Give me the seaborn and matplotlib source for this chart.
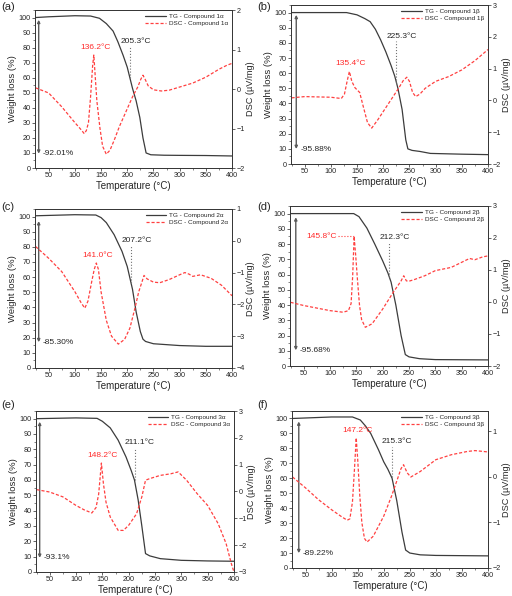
import numpy as np
import seaborn as sns
import matplotlib
matplotlib.use("Agg")
import matplotlib.pyplot as plt
from matplotlib.ticker import MultipleLocator
from matplotlib.lines import Line2D

sns.set_style("ticks")
plt.rcParams['font.family'] = ['Liberation Sans', 'DejaVu Sans']

# compounds shown in the six panels
compounds = ['1α', '1β', '2α', '2β', '3α', '3β']
panel_letters = ['(a)', '(b)', '(c)', '(d)', '(e)', '(f)']

# TG curves (temperature °C, weight %)
tg_a_temp = [25, 50, 100, 130, 147, 160, 173, 182, 192, 200, 210, 217, 224, 230, 236, 245, 270, 300, 350, 400]
tg_a = [100, 100.5, 101.2, 101, 99.5, 96, 91, 84, 75, 67, 53, 44.6, 33.6, 20, 10, 8.8, 8.5, 8.4, 8.3, 8]
tg_b_temp = [25, 100, 130, 150, 165, 175, 185, 195, 205, 215, 222, 228, 236, 243, 247, 255, 270, 290, 350, 400]
tg_b = [100, 100, 100, 98.5, 96, 94, 89, 82, 74, 65, 58, 50, 36, 16, 10, 9, 8.3, 7, 6.5, 6.2]
tg_c_temp = [25, 100, 140, 150, 160, 175, 190, 200, 210, 217, 225, 230, 235, 250, 300, 350, 400]
tg_c = [100.5, 101.2, 101, 99.3, 96, 88, 77, 67, 52, 37, 24, 19, 17.5, 16, 14.8, 14.3, 14.3]
tg_d_temp = [25, 100, 145, 155, 170, 185, 200, 210, 216, 225, 235, 243, 250, 270, 300, 400]
tg_d = [100, 100, 100, 98, 90.5, 80, 69, 61, 55, 40, 20, 7.5, 6, 4.8, 4.2, 4]
tg_e_temp = [25, 100, 140, 150, 165, 180, 195, 205, 211, 218, 225, 232, 240, 260, 300, 350, 400]
tg_e = [100, 100.5, 100.2, 98.3, 94, 86, 75, 66, 60, 47, 30, 12, 10.5, 8.7, 7.6, 7.2, 7]
tg_f_temp = [25, 100, 140, 155, 165, 175, 190, 200, 208, 216, 225, 235, 242, 250, 270, 300, 400]
tg_f = [100, 101, 101, 99, 95, 90, 79, 71, 66, 60, 45, 24, 12, 10, 8.8, 8.4, 8.1]

# DSC curves (temperature °C, µV/mg)
dsc_a_temp = [25, 50, 75, 100, 110, 118, 122, 126, 130, 134, 136.2, 138, 142, 148, 153, 160, 167, 175, 185, 200, 210, 220, 226, 230, 234, 240, 250, 265, 280, 300, 325, 350, 375, 390, 400]
dsc_a = [0.03, -0.1, -0.45, -0.85, -1.0, -1.13, -1.05, -0.85, -0.2, 0.6, 0.86, 0.5, -0.3, -1.0, -1.45, -1.65, -1.55, -1.3, -0.95, -0.5, -0.2, 0.05, 0.25, 0.35, 0.25, 0.08, -0.02, -0.05, -0.03, 0.05, 0.15, 0.3, 0.5, 0.6, 0.65]
dsc_b_temp = [25, 50, 100, 120, 126, 131, 135.4, 140, 146, 155, 162, 170, 178, 190, 200, 210, 220, 230, 238, 245, 250, 256, 262, 270, 280, 300, 325, 350, 375, 400]
dsc_b = [0.08, 0.12, 0.1, 0.06, 0.2, 0.6, 0.91, 0.6, 0.4, 0.25, -0.2, -0.7, -0.87, -0.6, -0.35, -0.1, 0.15, 0.4, 0.62, 0.73, 0.6, 0.25, 0.12, 0.2, 0.38, 0.6, 0.75, 0.96, 1.25, 1.6]
dsc_c_temp = [25, 50, 75, 100, 112, 119, 125, 132, 137, 141.0, 145, 150, 160, 170, 183, 195, 205, 215, 222, 228, 232, 238, 250, 262, 280, 300, 310, 318, 325, 340, 360, 380, 400]
dsc_c = [-0.18, -0.55, -0.97, -1.6, -1.95, -2.12, -1.9, -1.3, -0.9, -0.7, -0.9, -1.6, -2.5, -3.0, -3.25, -3.1, -2.75, -2.1, -1.6, -1.3, -1.09, -1.2, -1.3, -1.32, -1.22, -1.07, -1.0, -1.05, -1.12, -1.07, -1.18, -1.4, -1.73]
dsc_d_temp = [25, 50, 100, 125, 135, 140, 143, 145.8, 149, 152, 156, 160, 167, 180, 200, 220, 235, 240, 245, 250, 260, 280, 300, 330, 350, 365, 375, 390, 400]
dsc_d = [-0.01, -0.11, -0.27, -0.32, -0.27, -0.05, 0.8, 2.05, 1.4, 0.72, -0.1, -0.55, -0.79, -0.68, -0.22, 0.3, 0.66, 0.82, 0.66, 0.65, 0.7, 0.82, 0.98, 1.08, 1.24, 1.36, 1.32, 1.41, 1.44]
dsc_e_temp = [25, 50, 75, 100, 115, 130, 138, 143, 148.2, 152, 157, 165, 180, 190, 200, 215, 225, 232, 240, 260, 280, 294, 310, 330, 350, 370, 385, 395, 400]
dsc_e = [0.07, -0.02, -0.2, -0.52, -0.68, -0.8, -0.6, -0.1, 1.06, 0.3, -0.4, -0.95, -1.45, -1.45, -1.26, -0.83, -0.2, 0.42, 0.48, 0.6, 0.66, 0.73, 0.42, -0.08, -0.52, -1.2, -1.94, -2.69, -3.0]
dsc_f_temp = [25, 50, 75, 100, 120, 130, 135, 140, 144, 147.2, 150, 154, 158, 163, 168, 180, 200, 215, 228, 233, 238, 245, 252, 270, 300, 330, 360, 375, 400]
dsc_f = [0, -0.24, -0.5, -0.72, -0.88, -0.95, -0.92, -0.55, 0.2, 0.86, 0.4, -0.4, -1.0, -1.35, -1.43, -1.3, -0.86, -0.42, 0.01, 0.18, 0.27, 0.09, 0.0, 0.12, 0.38, 0.49, 0.56, 0.58, 0.55]

# annotated values
peak_temps = [136.2, 135.4, 141.0, 145.8, 148.2, 147.2]
onset_temps = [205.3, 225.3, 207.2, 212.3, 211.1, 215.3]
mass_losses = ['-92.01%', '-95.88%', '-85.30%', '-95.68%', '-93.1%', '-89.22%']
loss_top = [98.5, 98.5, 97, 97.6, 98, 98]
loss_bottom = [9.5, 9.9, 17, 10.3, 9.2, 9.9]

tg_temps = [tg_a_temp, tg_b_temp, tg_c_temp, tg_d_temp, tg_e_temp, tg_f_temp]
tg_vals = [tg_a, tg_b, tg_c, tg_d, tg_e, tg_f]
dsc_temps = [dsc_a_temp, dsc_b_temp, dsc_c_temp, dsc_d_temp, dsc_e_temp, dsc_f_temp]
dsc_vals = [dsc_a, dsc_b, dsc_c, dsc_d, dsc_e, dsc_f]

# layout
rects = [[0.0684, 0.7181, 0.3848, 0.2651], [0.5684, 0.7248, 0.3848, 0.2668],
         [0.0684, 0.3826, 0.3848, 0.2668], [0.5664, 0.3859, 0.3867, 0.2685],
         [0.0703, 0.0403, 0.3867, 0.2701], [0.5703, 0.0470, 0.3828, 0.2634]]
dsc_lims = [(-2, 2), (-2, 3), (-4, 1), (-2, 3), (-3, 3), (-2, 1.45)]
letter_pos = [(0.002, 0.988), (0.502, 0.988), (0.002, 0.653), (0.502, 0.653), (0.002, 0.320), (0.502, 0.320)]
arrow_x = [31, 34, 31, 35, 31, 37]

tg_color = '#3c3c3c'
dsc_color = '#ff4040'
red_text = '#ff2a2a'

fig = plt.figure(figsize=(5.12, 5.96), dpi=100)

for i in range(6):
    ax = fig.add_axes(rects[i])
    sns.lineplot(x=tg_temps[i], y=tg_vals[i], ax=ax, color=tg_color, lw=0.9)
    ax.set_xlim(24, 400)
    ax.set_ylim(0, 105)
    ax.xaxis.set_major_locator(MultipleLocator(50))
    ax.xaxis.set_minor_locator(MultipleLocator(25))
    ax.yaxis.set_major_locator(MultipleLocator(10))
    ax.yaxis.set_minor_locator(MultipleLocator(5))
    ax.set_xlabel('Temperature (°C)', fontsize=7, labelpad=1)
    ax.set_ylabel('Weight loss (%)', fontsize=6.8, labelpad=1)

    ax2 = ax.twinx()
    sns.lineplot(x=dsc_temps[i], y=dsc_vals[i], ax=ax2, color=dsc_color, lw=0.9,
                 linestyle=(0, (2.5, 1.5)))
    ax2.set_ylim(*dsc_lims[i])
    ax2.yaxis.set_major_locator(MultipleLocator(1))
    ax2.set_ylabel('DSC (µV/mg)', fontsize=6.6, labelpad=0.5)

    for a in (ax, ax2):
        a.tick_params(which='major', labelsize=5.2, length=2, width=0.5, pad=1.2)
        a.tick_params(which='minor', length=1.2, width=0.4)
        for s in a.spines.values():
            s.set_linewidth(0.6)
            s.set_color('#333333')

    # mass loss arrow
    ax.annotate('', xy=(arrow_x[i], loss_bottom[i]), xytext=(arrow_x[i], loss_top[i]),
                arrowprops=dict(arrowstyle='<|-|>', color='0.35', lw=1.0, mutation_scale=4,
                                shrinkA=0, shrinkB=0))
    ax.text(arrow_x[i] + 8, loss_bottom[i], mass_losses[i], fontsize=6, va='center', ha='left')

    # onset temperature
    t0 = onset_temps[i]
    w0 = np.interp(t0, tg_temps[i], tg_vals[i])
    ax.plot([t0, t0], [w0, 81], ls=':', color='0.45', lw=0.8)
    ax.annotate(f'{t0:.1f}°C', xy=(t0, 81), xytext=(4, 1), textcoords='offset points',
                ha='center', va='bottom', fontsize=6)

    # DSC peak
    pt = peak_temps[i]
    pv = dsc_vals[i][dsc_temps[i].index(pt)]
    if i == 3:
        ax2.plot([pt - 30, pt], [pv, pv], ls=':', color=dsc_color, lw=0.8)
        ax2.text(pt - 32, pv, f'{pt:.1f}°C', color=red_text, fontsize=6, ha='right', va='center')
    else:
        ax2.annotate(f'{pt:.1f}°C', xy=(pt, pv), xytext=(1, 3), textcoords='offset points',
                     ha='center', va='bottom', color=red_text, fontsize=6)

    handles = [Line2D([], [], color=tg_color, lw=0.9),
               Line2D([], [], color=dsc_color, lw=0.9, linestyle=(0, (2.5, 1.5)))]
    labels = [f'TG - Compound {compounds[i]}', f'DSC - Compound {compounds[i]}']
    ax2.legend(handles, labels, loc='upper right', fontsize=4.6, frameon=False,
               handlelength=3.2, borderaxespad=0.2, labelspacing=0.25, handletextpad=0.5)

    fig.text(letter_pos[i][0], letter_pos[i][1], panel_letters[i], fontsize=8, va='center', ha='left')

fig.savefig('out.png', dpi=100)
